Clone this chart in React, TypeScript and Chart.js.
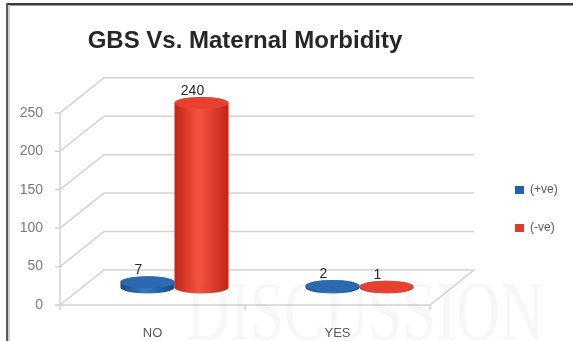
import { useEffect, useRef } from 'react';
import { Chart, registerables } from 'chart.js';

Chart.register(...registerables);

// Data
const categories = ['NO', 'YES'];
const seriesLabels = ['(+ve)', '(-ve)'];
const positiveCounts = [7, 2];
const negativeCounts = [240, 1];
const yTickValues = [0, 50, 100, 150, 200, 250];

// Depth offset of the back wall relative to the front plane (pixels)
const DEPTH_X = 44;
const DEPTH_Y = -35;

const SERIES_COLORS = ['#2360a8', '#e33b2b'];
const SHADES = [
  { dark: '#164a86', light: '#3579c4', top: '#2b69b2' },
  { dark: '#c42417', light: '#f5553f', top: '#e8412f' },
];

const FONT = "'Liberation Sans', Arial, sans-serif";

const cylinderPlugin = {
  id: 'cylinder3d',
  beforeDraw(chart: any) {
    const { ctx, width, height } = chart;
    ctx.save();
    ctx.fillStyle = '#ffffff';
    ctx.fillRect(0, 0, width, height);
    // frame edges
    ctx.fillStyle = '#3a3a3a';
    ctx.fillRect(6, 3, width - 6, 2);
    ctx.fillStyle = '#9a9a9a';
    ctx.fillRect(6, 5, width - 6, 1);
    ctx.fillStyle = '#5a5a5a';
    ctx.fillRect(6, 3, 2, height - 3);
    ctx.fillStyle = '#cfcfcf';
    ctx.fillRect(8, 5, 2, height - 5);
    ctx.restore();
  },
  beforeDatasetsDraw(chart: any) {
    const { ctx, chartArea } = chart;
    const { left, right, top, bottom } = chartArea;
    const y = chart.scales.y;
    ctx.save();
    ctx.strokeStyle = '#d2d2d2';
    ctx.lineWidth = 1.5;
    for (const v of yTickValues) {
      const py = y.getPixelForValue(v);
      ctx.beginPath();
      if (v === 0) {
        ctx.moveTo(left, py);
        ctx.lineTo(right, py);
        ctx.lineTo(right + DEPTH_X, py + DEPTH_Y);
        ctx.lineTo(left + DEPTH_X, py + DEPTH_Y);
        ctx.closePath();
      } else {
        ctx.moveTo(left, py);
        ctx.lineTo(left + DEPTH_X, py + DEPTH_Y);
        ctx.lineTo(right + DEPTH_X, py + DEPTH_Y);
      }
      ctx.stroke();
      // small tick on the value axis
      ctx.beginPath();
      ctx.moveTo(left - 5, py);
      ctx.lineTo(left, py);
      ctx.stroke();
    }
    // value axis line
    ctx.beginPath();
    ctx.moveTo(left, top);
    ctx.lineTo(left, bottom);
    ctx.stroke();
    // category separators
    const n = categories.length;
    const step = (right - left) / n;
    for (let i = 0; i <= n; i++) {
      const px = left + step * i;
      ctx.beginPath();
      ctx.moveTo(px, bottom);
      ctx.lineTo(px, bottom + 5);
      ctx.stroke();
    }
    ctx.restore();
  },
  beforeDatasetDraw() {
    // bars are rendered as cylinders afterwards
    return false;
  },
  afterDatasetsDraw(chart: any) {
    const { ctx } = chart;
    const items: { el: any; ds: number; value: number }[] = [];
    chart.data.datasets.forEach((ds: any, di: number) => {
      const meta = chart.getDatasetMeta(di);
      meta.data.forEach((el: any, i: number) => {
        items.push({ el, ds: di, value: ds.data[i] });
      });
    });
    items.sort((a, b) => a.el.x - b.el.x);
    ctx.save();
    for (const { el, ds } of items) {
      const cx = el.x + DEPTH_X / 2;
      const topY = el.y + DEPTH_Y / 2;
      const baseY = el.base + DEPTH_Y / 2;
      const rx = el.width / 2;
      const ry = rx * 0.22;
      const shade = SHADES[ds];
      const grad = ctx.createLinearGradient(cx - rx, 0, cx + rx, 0);
      grad.addColorStop(0, shade.dark);
      grad.addColorStop(0.45, shade.light);
      grad.addColorStop(1, shade.dark);
      ctx.beginPath();
      ctx.moveTo(cx - rx, topY);
      ctx.lineTo(cx - rx, baseY);
      ctx.ellipse(cx, baseY, rx, ry, 0, Math.PI, 0, true);
      ctx.lineTo(cx + rx, topY);
      ctx.ellipse(cx, topY, rx, ry, 0, 0, Math.PI, true);
      ctx.closePath();
      ctx.fillStyle = grad;
      ctx.fill();
      ctx.beginPath();
      ctx.ellipse(cx, topY, rx, ry, 0, 0, Math.PI * 2);
      ctx.fillStyle = shade.top;
      ctx.fill();
    }
    // value labels
    ctx.fillStyle = '#262626';
    ctx.font = `14px ${FONT}`;
    ctx.textAlign = 'center';
    ctx.textBaseline = 'middle';
    for (const { el, value } of items) {
      const cx = el.x + DEPTH_X / 2;
      const topY = el.y + DEPTH_Y / 2;
      const ry = (el.width / 2) * 0.22;
      ctx.fillText(String(value), cx - 9, topY - ry - 6);
    }
    ctx.restore();
  },
  afterDraw(chart: any) {
    const { ctx } = chart;
    ctx.save();
    ctx.font = `60px 'Liberation Serif', serif`;
    const text = 'DISCUSSION';
    const w = ctx.measureText(text).width;
    ctx.translate(186, 287);
    ctx.scale(358 / w, 1.4);
    ctx.textBaseline = 'top';
    ctx.textAlign = 'left';
    ctx.fillStyle = 'rgba(110,110,110,0.055)';
    ctx.fillText(text, 0, -8);
    ctx.restore();
  },
};

export default function App() {
  const canvasRef = useRef<HTMLCanvasElement>(null);

  useEffect(() => {
    if (!canvasRef.current) return;
    Chart.defaults.font.family = FONT;
    const chart = new Chart(canvasRef.current, {
      type: 'bar',
      data: {
        labels: categories,
        datasets: [
          {
            label: seriesLabels[0],
            data: positiveCounts,
            backgroundColor: SERIES_COLORS[0],
            borderWidth: 0,
            barPercentage: 1,
            categoryPercentage: 0.584,
          },
          {
            label: seriesLabels[1],
            data: negativeCounts,
            backgroundColor: SERIES_COLORS[1],
            borderWidth: 0,
            barPercentage: 1,
            categoryPercentage: 0.584,
          },
        ],
      },
      options: {
        responsive: false,
        animation: false,
        events: [],
        layout: { padding: { left: 0, right: 14, top: 0, bottom: 0 } },
        plugins: {
          title: {
            display: true,
            text: 'GBS Vs. Maternal Morbidity',
            fullSize: false,
            color: '#262626',
            font: { size: 24, weight: 'bold', family: FONT },
            padding: { top: 27, bottom: 57 },
          },
          legend: {
            display: true,
            position: 'right',
            fullSize: false,
            maxWidth: 70,
            labels: {
              boxWidth: 9,
              boxHeight: 8,
              padding: 26,
              color: '#595959',
              font: { size: 12, family: FONT },
            },
          },
          tooltip: { enabled: false },
        },
        scales: {
          x: {
            grid: { display: false },
            border: { display: false },
            ticks: { color: '#595959', font: { size: 13, family: FONT }, padding: 13 },
            afterFit: (s: any) => {
              s.height = 36;
            },
          },
          y: {
            min: 0,
            max: 250,
            grid: { display: false },
            border: { display: false },
            ticks: { stepSize: 50, color: '#7a7a7a', font: { size: 14, family: FONT }, padding: 9 },
            afterFit: (s: any) => {
              s.width = 60;
            },
          },
          depth: {
            type: 'linear',
            position: 'right',
            display: true,
            grid: { display: false },
            border: { display: false },
            ticks: { display: false },
            afterFit: (s: any) => {
              s.width = 59;
            },
          },
        },
      } as any,
      plugins: [cylinderPlugin],
    });
    return () => chart.destroy();
  }, []);

  return (
    <div style={{ position: 'fixed', left: 0, top: 0, width: 573, height: 341, background: '#fff' }}>
      <canvas ref={canvasRef} width={573} height={341} style={{ display: 'block' }} />
    </div>
  );
}
